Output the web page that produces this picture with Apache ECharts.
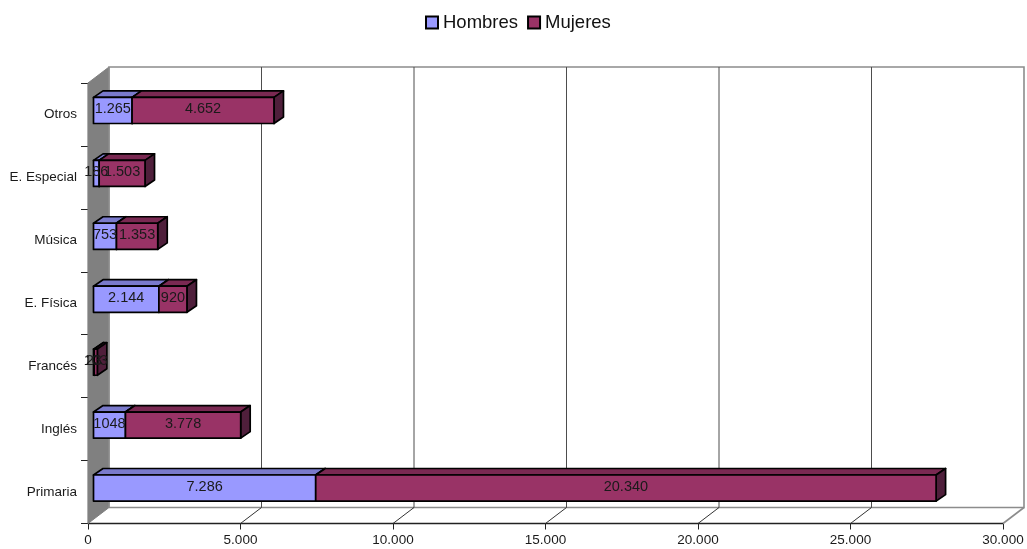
<!DOCTYPE html>
<html><head><meta charset="utf-8">
<style>html,body{margin:0;padding:0;background:#fff}#c{width:1027px;height:549px}</style>
<script src="https://cdn.jsdelivr.net/npm/echarts@6/dist/echarts.min.js"></script>
</head><body><div id="c"></div>
<script>
const categories = ['Primaria','Inglés','Francés','E. Física','Música','E. Especial','Otros'];
const hombres = [7286,1048,23,2144,753,186,1265];
const mujeres = [20340,3778,103,920,1353,1503,4652];
const hombresLabels = ['7.286','1048','23','2.144','753','186','1.265'];
const mujeresLabels = ['20.340','3.778','103','920','1.353','1.503','4.652'];
const xTicks = [0,5000,10000,15000,20000,25000,30000];

const WALL = [21,-16], BAR_OFF = [5.5,-4], BAR_DEPTH = [9.5,-6.5];
const FONT = '"Liberation Sans", Arial, sans-serif';

function frameItem(params, api){
  const v = api.value(0);
  const bottom = api.coord([v,0])[1] + api.size([0,1])[1]/2;
  const top = bottom - api.size([0,1])[1]*categories.length;
  const x = api.coord([v,0])[0];
  const ch = [];
  if (params.dataIndex === 0) {
    const xr = api.coord([30000,0])[0];
    ch.push({type:'polygon',shape:{points:[[x,top],[x+WALL[0],top+WALL[1]],[x+WALL[0],bottom+WALL[1]],[x,bottom]]},style:{fill:'#808080',stroke:'#808080',lineWidth:1}});
    ch.push({type:'polyline',shape:{points:[[x+WALL[0],bottom+WALL[1]],[x+WALL[0],top+WALL[1]],[xr+WALL[0],top+WALL[1]],[xr+WALL[0],bottom+WALL[1]],[x+WALL[0],bottom+WALL[1]]]},style:{fill:'none',stroke:'#8c8c8c',lineWidth:1.6}});
    ch.push({type:'line',shape:{x1:xr,y1:bottom,x2:xr+WALL[0],y2:bottom+WALL[1]},style:{stroke:'#8c8c8c',lineWidth:1.6}});
  } else if (v < 30000) {
    ch.push({type:'line',shape:{x1:x+WALL[0],y1:top+WALL[1],x2:x+WALL[0],y2:bottom+WALL[1]},style:{stroke:'#4d4d4d',lineWidth:1}});
    ch.push({type:'line',shape:{x1:x,y1:bottom,x2:x+WALL[0],y2:bottom+WALL[1]},style:{stroke:'#333',lineWidth:1}});
  }
  return {type:'group',children:ch};
}

function barGeom(api){
  const s = api.coord([api.value(0), api.value(2)]);
  const e = api.coord([api.value(1), api.value(2)]);
  const h = api.size([0,1])[1]*0.415;
  const x0 = s[0]+BAR_OFF[0], x1 = e[0]+BAR_OFF[0];
  const y0 = s[1]+BAR_OFF[1]-h/2;
  return {x0,x1,y0,y1:y0+h,h};
}
function barItem(fill, topFill, sideFill){
  return function(params, api){
    const g = barGeom(api), dx = BAR_DEPTH[0], dy = BAR_DEPTH[1];
    const st = {stroke:'#000',lineWidth:1.7,lineJoin:'round'};
    return {type:'group',children:[
      {type:'polygon',shape:{points:[[g.x0,g.y0],[g.x0+dx,g.y0+dy],[g.x1+dx,g.y0+dy],[g.x1,g.y0]]},style:{fill:topFill,...st}},
      {type:'polygon',shape:{points:[[g.x1,g.y0],[g.x1+dx,g.y0+dy],[g.x1+dx,g.y1+dy],[g.x1,g.y1]]},style:{fill:sideFill,...st}},
      {type:'rect',shape:{x:g.x0,y:g.y0,width:g.x1-g.x0,height:g.h},style:{fill:fill,...st}}
    ]};
  };
}
function labelItem(labels){
  return function(params, api){
    const g = barGeom(api);
    return {type:'text',style:{text:labels[params.dataIndex],x:(g.x0+g.x1)/2,y:g.y0+g.h/2-1.5,align:'center',verticalAlign:'middle',font:'14.5px '+FONT,fill:'#1a1a1a'}};
  };
}
const hData = hombres.map((v,i)=>[0,v,i]);
const mData = mujeres.map((v,i)=>[hombres[i],hombres[i]+v,i]);

const chart = echarts.init(document.getElementById('c'),null,{renderer:'canvas'});
chart.setOption({
  animation:false,
  backgroundColor:'#fff',
  textStyle:{fontFamily:FONT},
  legend:{
    data:[{name:'Hombres',icon:'rect'},{name:'Mujeres',icon:'rect'}],
    left:425,top:13,padding:0,itemWidth:12,itemHeight:12,itemGap:9,
    textStyle:{fontFamily:FONT,fontSize:18.5,color:'#111'},
    selectedMode:false
  },
  grid:{left:88,right:24,top:83,bottom:25.5,containLabel:false},
  xAxis:{type:'value',min:0,max:30000,interval:5000,
    axisLine:{show:true,lineStyle:{color:'#222',width:1.3}},
    axisTick:{show:true,length:6,inside:false,lineStyle:{color:'#222'}},
    splitLine:{show:false},
    axisLabel:{margin:10,fontFamily:FONT,fontSize:13.5,color:'#1a1a1a',hideOverlap:false,
      formatter:v=>v===0?'0':String(v).replace(/(\d)(\d{3})$/,'$1.$2')}
  },
  yAxis:{type:'category',data:categories,boundaryGap:true,
    axisLine:{show:true,lineStyle:{color:'#222',width:1.3}},
    axisTick:{show:true,length:7,alignWithLabel:false,interval:0,lineStyle:{color:'#222'}},
    axisLabel:{margin:11,interval:0,fontFamily:FONT,fontSize:13.5,color:'#1a1a1a',padding:[0,0,3,0]}
  },
  series:[
    {type:'custom',name:'frame',silent:true,clip:false,z:1,
      data:xTicks.map(v=>[v,0]),encode:{x:0,y:1},renderItem:frameItem},
    {type:'custom',name:'Hombres',clip:false,z:3,data:hData,encode:{x:[0,1],y:2},
      itemStyle:{color:'#9999ff',borderColor:'#000',borderWidth:1.5},
      renderItem:barItem('#9999ff','#7a7acc','#4f4f8a')},
    {type:'custom',name:'Mujeres',clip:false,z:4,data:mData,encode:{x:[0,1],y:2},
      itemStyle:{color:'#993366',borderColor:'#000',borderWidth:1.5},
      renderItem:barItem('#993366','#7a2952','#4f1f3b')},
    {type:'custom',name:'Hombres valores',silent:true,clip:false,z:5,data:hData,encode:{x:[0,1],y:2},renderItem:labelItem(hombresLabels)},
    {type:'custom',name:'Mujeres valores',silent:true,clip:false,z:5,data:mData,encode:{x:[0,1],y:2},renderItem:labelItem(mujeresLabels)}
  ]
});
</script></body></html>
